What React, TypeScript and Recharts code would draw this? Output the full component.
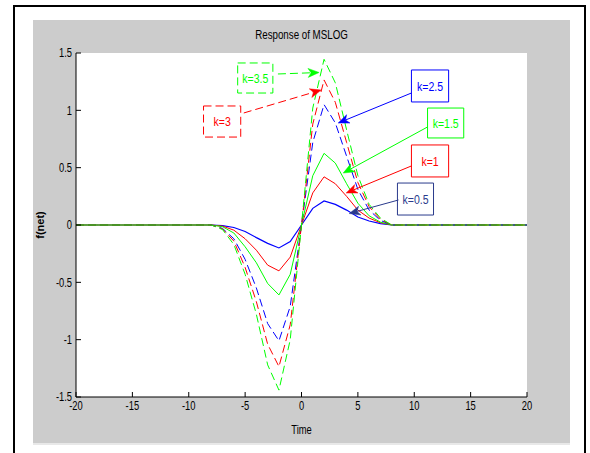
import React from 'react';
import { LineChart, Line, XAxis, YAxis, ReferenceArea, ReferenceLine, CartesianGrid } from 'recharts';

const times = [-20,-19,-18,-17,-16,-15,-14,-13,-12,-11,-10,-9,-8,-7,-6,-5,-4,-3,-2,-1,0,1,2,3,4,5,6,7,8,9,10,11,12,13,14,15,16,17,18,19,20];

const k05 = [0,0,0,0,0,0,0,0,0,0,0,0, 0,-0.005,-0.022,-0.057,-0.11,-0.16,-0.2,-0.145,0,0.145,0.21,0.18,0.13,0.07,0.035,0.012,0, 0,0,0,0,0,0,0,0,0,0,0,0];
const k1 = [0,0,0,0,0,0,0,0,0,0,0,0, 0,-0.01,-0.045,-0.12,-0.22,-0.35,-0.4,-0.28,0,0.28,0.42,0.36,0.25,0.13,0.06,0.02,0, 0,0,0,0,0,0,0,0,0,0,0,0];
const k15 = [0,0,0,0,0,0,0,0,0,0,0,0, 0,-0.015,-0.07,-0.19,-0.33,-0.51,-0.61,-0.43,0,0.43,0.625,0.54,0.36,0.19,0.08,0.025,0, 0,0,0,0,0,0,0,0,0,0,0,0];
const k25 = [0,0,0,0,0,0,0,0,0,0,0,0, 0,-0.03,-0.12,-0.3,-0.55,-0.86,-1.01,-0.71,0,0.72,1.05,0.89,0.6,0.31,0.13,0.04,0, 0,0,0,0,0,0,0,0,0,0,0,0];
const k3 = [0,0,0,0,0,0,0,0,0,0,0,0, 0,-0.035,-0.14,-0.37,-0.67,-1.04,-1.235,-0.87,0,0.88,1.265,1.07,0.72,0.37,0.16,0.05,0, 0,0,0,0,0,0,0,0,0,0,0,0];
const k35 = [0,0,0,0,0,0,0,0,0,0,0,0, 0,-0.04,-0.17,-0.43,-0.78,-1.22,-1.44,-1.0,0,1.02,1.445,1.24,0.83,0.43,0.18,0.06,0, 0,0,0,0,0,0,0,0,0,0,0,0];

const xTicks = [-20,-15,-10,-5,0,5,10,15,20];
const yTicks = [-1.5,-1,-0.5,0,0.5,1,1.5];
const seriesLabels = ['k=0.5','k=1','k=1.5','k=2.5','k=3','k=3.5'];

const BLUE = '#0000ff';
const RED = '#ff0000';
const GREEN = '#00ff00';
const NAVY = '#2a3a8c';
const FONT = "'Liberation Sans', Arial, sans-serif";
const SX = 0.78;

const rows = times.map((t, i) => ({ t, k05: k05[i], k1: k1[i], k15: k15[i], k25: k25[i], k3: k3[i], k35: k35[i] }));

const annotations = [
  { text: seriesLabels[5], color: GREEN, dashed: true, box: [-5.66, -2.54, 1.151, 1.413], from: [-2.09, 1.317], to: [1.56, 1.33] },
  { text: seriesLabels[4], color: RED, dashed: true, box: [-8.69, -5.39, 0.767, 1.038], from: [-5.12, 0.977], to: [1.74, 1.177] },
  { text: seriesLabels[3], color: BLUE, dashed: false, box: [9.75, 13.05, 1.073, 1.352], from: [9.75, 1.151], to: [3.25, 0.889] },
  { text: seriesLabels[2], color: GREEN, dashed: false, box: [11.18, 14.39, 0.759, 1.02], from: [11.18, 0.855], to: [3.7, 0.453] },
  { text: seriesLabels[1], color: RED, dashed: false, box: [9.75, 13.05, 0.419, 0.698], from: [9.75, 0.515], to: [3.96, 0.279] },
  { text: seriesLabels[0], color: NAVY, dashed: false, box: [8.51, 11.71, 0.087, 0.366], from: [8.6, 0.218], to: [4.23, 0.1] },
];

const makeArrow = (color: string, dashed: boolean) => (props: any) => {
  const { x1, y1, x2, y2 } = props;
  const dx = x2 - x1;
  const dy = y2 - y1;
  const len = Math.hypot(dx, dy) || 1;
  const ux = dx / len;
  const uy = dy / len;
  const L = 11;
  const Wd = 4.5;
  const bx = x2 - ux * L;
  const by = y2 - uy * L;
  const pts = `${x2},${y2} ${bx - uy * Wd},${by + ux * Wd} ${bx + ux * 3},${by + uy * 3} ${bx + uy * Wd},${by - ux * Wd}`;
  return (
    <g>
      <line x1={x1} y1={y1} x2={bx + ux * 3} y2={by + uy * 3} stroke={color} strokeWidth={1} strokeDasharray={dashed ? '8 4' : undefined} />
      <polygon points={pts} fill={color} stroke={color} strokeWidth={0.5} />
    </g>
  );
};

const NarrowText = ({ x, y, anchor, dy, size, fill, children }: any) => (
  <text transform={`translate(${x},${y}) scale(${SX},1)`} textAnchor={anchor} dy={dy} fontSize={size} fontFamily={FONT} fill={fill}>
    {children}
  </text>
);

const XTick = (p: any) => (
  <NarrowText x={p.x} y={p.y} anchor="middle" dy="0.71em" size={12} fill="#000">{String(p.payload.value)}</NarrowText>
);
const YTick = (p: any) => (
  <NarrowText x={p.x} y={p.y} anchor="end" dy="0.36em" size={12} fill="#000">{String(p.payload.value)}</NarrowText>
);

export default function App() {
  return (
    <div style={{ position: 'absolute', left: 0, top: 0, width: 590, height: 453, overflow: 'hidden', background: '#fff' }}>
      <div style={{ position: 'absolute', left: 13, top: 5, width: 573, height: 470, border: '2px solid #000', boxSizing: 'border-box' }} />
      <div style={{ position: 'absolute', left: 33, top: 20, width: 537, height: 423, background: '#cccccc' }} />
      <div style={{ position: 'absolute', left: 33, top: 443, width: 537, height: 2, background: '#e8e8e8' }} />
      <div style={{ position: 'absolute', left: 76, top: 28, width: 451, textAlign: 'center', fontFamily: FONT, fontSize: 12.5, color: '#000', lineHeight: '14px', transform: `scaleX(${SX})`, transformOrigin: '50% 50%' }}>Response of MSLOG</div>
      <div style={{ position: 'absolute', left: 0, top: 0 }}>
        <LineChart width={590} height={453} data={rows} margin={{ top: 53, right: 63, bottom: 30, left: 36 }}>
          <CartesianGrid horizontal={false} vertical={false} fill="#ffffff" fillOpacity={1} />
          <XAxis
            xAxisId="b"
            dataKey="t"
            type="number"
            domain={[-20, 20]}
            ticks={xTicks}
            height={26}
            tickSize={-5}
            tickMargin={9}
            axisLine={{ stroke: '#000' }}
            tickLine={{ stroke: '#000' }}
            tick={<XTick />}
            interval={0}
            label={(p: any) => {
              const vb = p.viewBox || { x: 76, y: 397, width: 451, height: 26 };
              return (
                <NarrowText x={vb.x + vb.width / 2} y={vb.y + 33} anchor="middle" dy="0.36em" size={12} fill="#000">Time</NarrowText>
              );
            }}
          />
          <XAxis
            xAxisId="top"
            dataKey="t"
            type="number"
            orientation="top"
            domain={[-20, 20]}
            ticks={xTicks}
            height={0}
            tickSize={-5}
            axisLine={{ stroke: '#000' }}
            tickLine={{ stroke: '#000' }}
            tick={() => <g />}
            interval={0}
          />
          <YAxis
            yAxisId="l"
            type="number"
            domain={[-1.5, 1.5]}
            ticks={yTicks}
            width={40}
            tickSize={-5}
            tickMargin={9}
            axisLine={{ stroke: '#000' }}
            tickLine={{ stroke: '#000' }}
            tick={<YTick />}
            interval={0}
            label={(p: any) => {
              const vb = p.viewBox || { x: 36, y: 53, width: 40, height: 344 };
              const cx = vb.x + 4;
              const cy = vb.y + vb.height / 2;
              return (
                <text x={cx} y={cy} transform={`rotate(-90, ${cx}, ${cy})`} textAnchor="middle" dominantBaseline="central" fill="#000" fontSize={11} fontWeight="bold" fontFamily={FONT}>f(net)</text>
              );
            }}
          />
          <YAxis
            yAxisId="r"
            orientation="right"
            type="number"
            domain={[-1.5, 1.5]}
            ticks={yTicks}
            width={0}
            tickSize={-5}
            axisLine={{ stroke: '#000' }}
            tickLine={{ stroke: '#000' }}
            tick={() => <g />}
            interval={0}
          />
          <Line xAxisId="b" yAxisId="l" dataKey="k05" stroke={BLUE} strokeWidth={1.2} dot={false} isAnimationActive={false} />
          <Line xAxisId="b" yAxisId="l" dataKey="k1" stroke={RED} strokeWidth={1} dot={false} isAnimationActive={false} />
          <Line xAxisId="b" yAxisId="l" dataKey="k15" stroke={GREEN} strokeWidth={1} dot={false} isAnimationActive={false} />
          <Line xAxisId="b" yAxisId="l" dataKey="k25" stroke={BLUE} strokeWidth={1} strokeDasharray="8 4" dot={false} isAnimationActive={false} />
          <Line xAxisId="b" yAxisId="l" dataKey="k3" stroke={RED} strokeWidth={1} strokeDasharray="8 4" dot={false} isAnimationActive={false} />
          <Line xAxisId="b" yAxisId="l" dataKey="k35" stroke={GREEN} strokeWidth={1} strokeDasharray="8 4" dot={false} isAnimationActive={false} />
          {annotations.map((a) => (
            <ReferenceArea
              key={'box' + a.text}
              xAxisId="b"
              yAxisId="l"
              x1={a.box[0]}
              x2={a.box[1]}
              y1={a.box[2]}
              y2={a.box[3]}
              fill="#ffffff"
              fillOpacity={1}
              stroke={a.color}
              strokeWidth={1}
              strokeDasharray={a.dashed ? '8 4' : undefined}
              label={(p: any) => {
                const vb = p.viewBox || { x: 0, y: 0, width: 0, height: 0 };
                return (
                  <NarrowText x={vb.x + vb.width / 2} y={vb.y + vb.height / 2} anchor="middle" dy="0.36em" size={13.5} fill={a.color}>{a.text}</NarrowText>
                );
              }}
            />
          ))}
          {annotations.map((a) => (
            <ReferenceLine
              key={'arrow' + a.text}
              xAxisId="b"
              yAxisId="l"
              segment={[{ x: a.from[0], y: a.from[1] }, { x: a.to[0], y: a.to[1] }]}
              stroke={a.color}
              shape={makeArrow(a.color, a.dashed)}
            />
          ))}
        </LineChart>
      </div>
    </div>
  );
}
